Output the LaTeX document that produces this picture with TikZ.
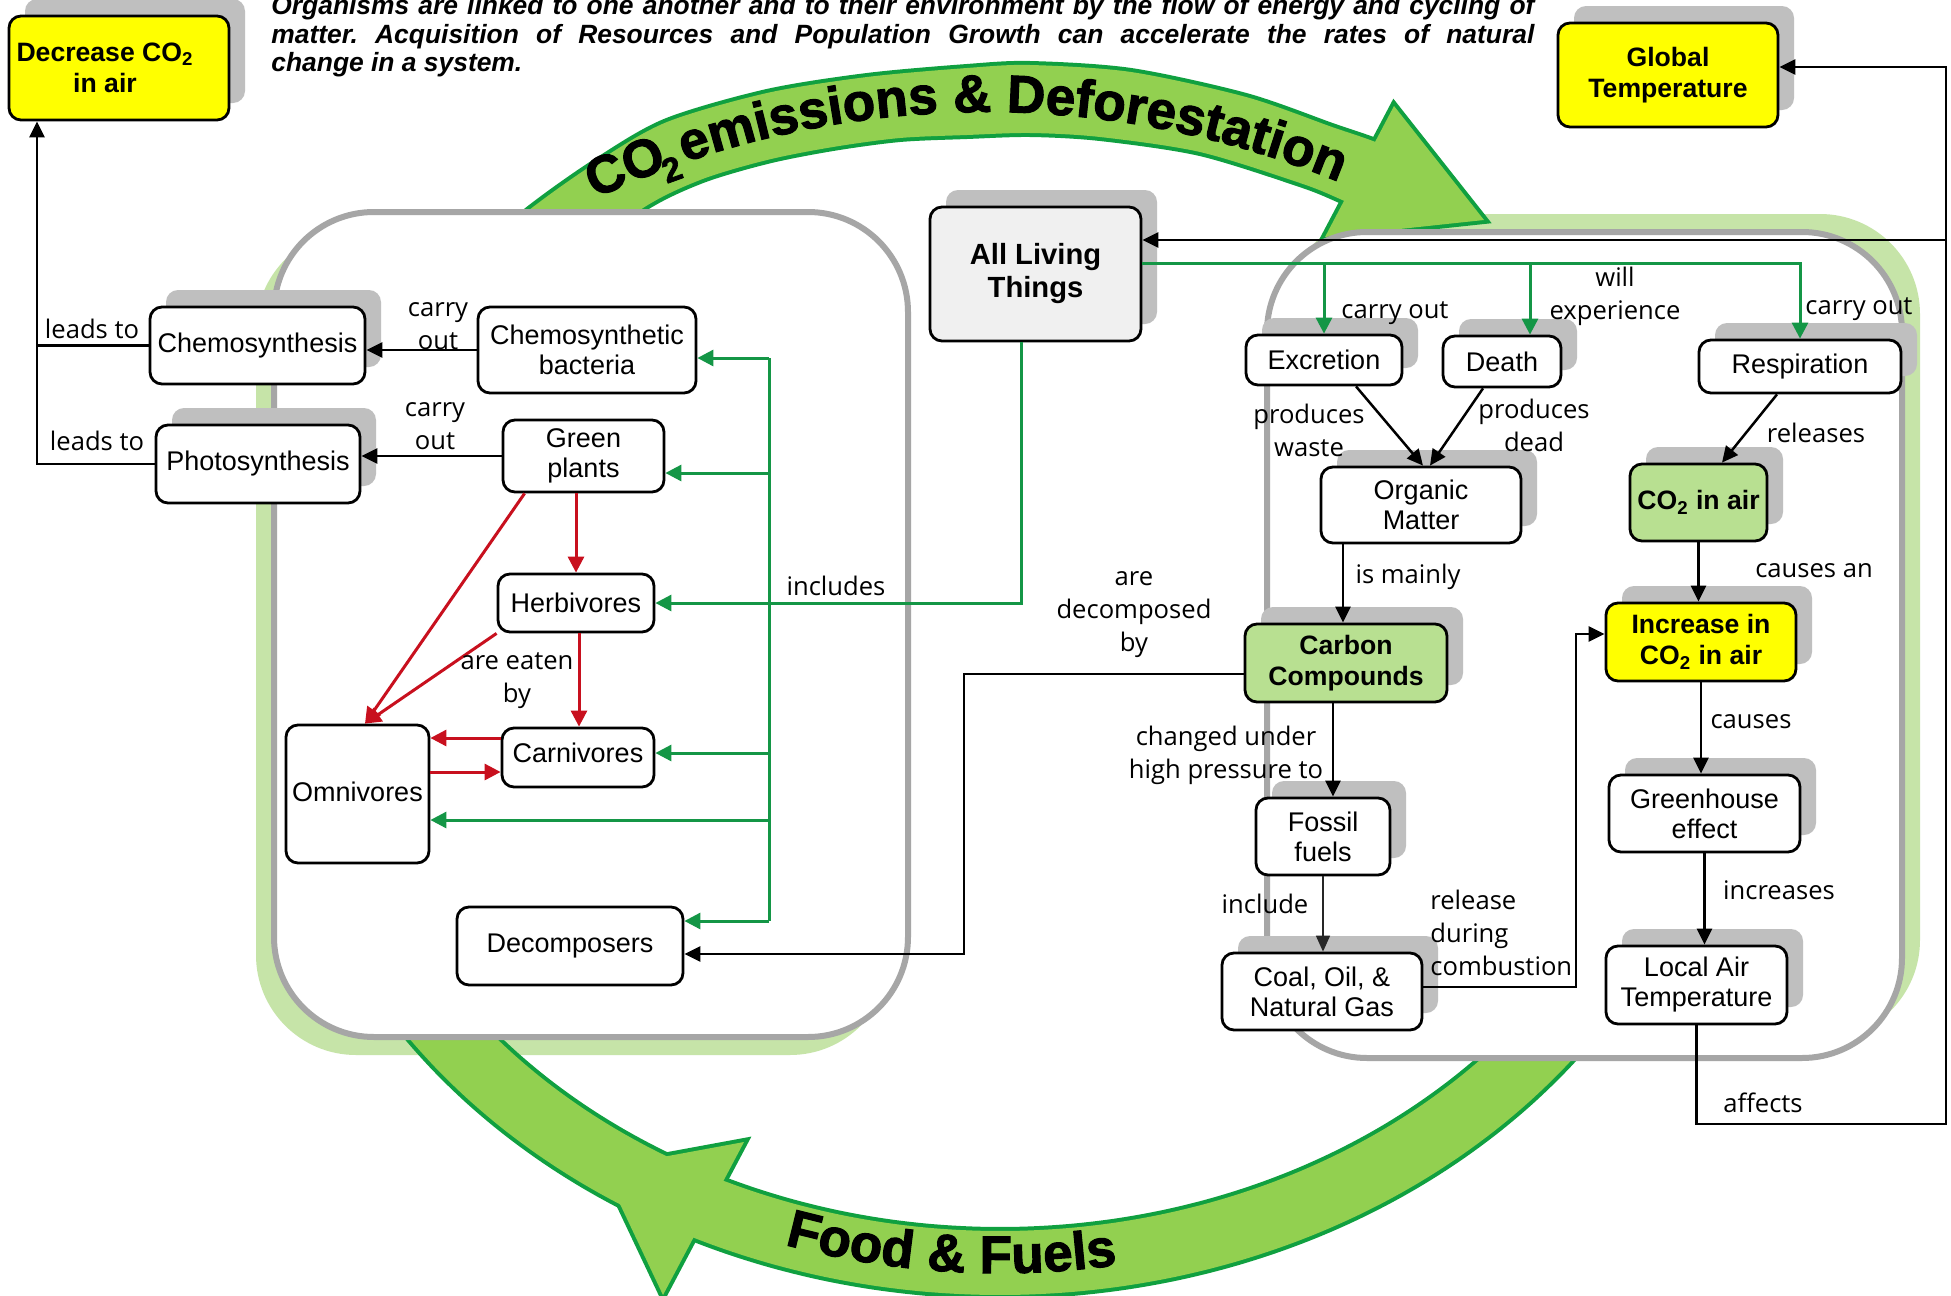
\documentclass[tikz,border=0pt]{standalone}
\usepackage{fontspec}
\setmainfont{Liberation Sans}
\newfontfamily\lblfont{Open Sans}
\newfontfamily\heavyfont{Liberation Sans}[BoldFeatures={FakeBold=2}]
\usetikzlibrary{arrows.meta,decorations.text,shadows}
\frenchspacing

\definecolor{bandfill}{RGB}{146,208,80}
\definecolor{bandline}{RGB}{16,160,64}
\definecolor{halo}{RGB}{198,228,168}
\definecolor{frame}{RGB}{166,166,166}
\definecolor{shade}{RGB}{191,191,191}
\definecolor{boxyellow}{RGB}{255,255,0}
\definecolor{boxgreen}{RGB}{184,224,145}
\definecolor{boxgrey}{RGB}{240,240,240}
\definecolor{linkgreen}{RGB}{20,150,70}
\definecolor{linkred}{RGB}{200,16,30}

\newcommand\nodetext{\fontsize{13.5}{15}\selectfont}
\newcommand\boldtext{\bfseries\fontsize{13.3}{15.5}\selectfont}
\newcommand\bigboldtext{\bfseries\fontsize{14.6}{16.5}\selectfont}
\newcommand\labeltext{\lblfont\fontsize{12.8}{16.5}\selectfont}
\newcommand\titletext{\bfseries\itshape\fontsize{13.2}{14}\selectfont}
\newcommand\arctext{\heavyfont\bfseries\fontsize{26.5}{28}\selectfont}
\newcommand\subarctext{\heavyfont\bfseries\fontsize{17}{17}\selectfont}

% the two curved arrows: bands and triangular heads
\newcommand\upperband{plot[smooth] coordinates {(450,275) (533,207) (600,160) (667,122) (767,93) (867,77) (967,68) (1030,65) (1131,72) (1246,97) (1332,127) (1378,143) (1428,166)} -- plot[smooth] coordinates {(1393,224) (1340,199) (1300,183) (1200,152) (1100,137) (1030,133) (967,135) (900,138) (833,147) (767,160) (700,180) (640,210) (560,275)} -- cycle}
\newcommand\upperhead{(1394,106) -- (1484,220) -- (1325,237) -- cycle}
\newcommand\lowerband{plot[domain=31:149,samples=90,smooth] ({1000+727*cos(\x)},{680+615*sin(\x)}) -- plot[domain=149:31,samples=90,smooth] ({1000+663*cos(\x)},{680+551*sin(\x)}) -- cycle}
\newcommand\lowerhead{(603,1168) -- (744,1142) -- (663,1295) -- cycle}

\begin{document}
\begin{tikzpicture}[x=0.5pt,y=-0.5pt,
  box/.style={draw=black, line width=1.4pt, rounded corners=6pt, fill=white,
    inner sep=2pt, align=center, font=\nodetext},
  keybox/.style={box, font=\boldtext},
  shadowed/.style={drop shadow={shadow xshift=8pt, shadow yshift=8.5pt,
    opacity=1, fill=shade, draw=none}},
  lbl/.style={font=\labeltext, align=center, inner sep=0pt},
  conn/.style={draw=black, line width=1.25pt, -{Triangle[length=8pt,width=7.5pt]}},
  gconn/.style={draw=linkgreen, line width=1.5pt, -{Triangle[length=8pt,width=8pt]}},
  rconn/.style={draw=linkred, line width=1.5pt, -{Triangle[length=8pt,width=8pt]}},
]
\useasboundingbox (0,0) rectangle (1951,1296);
\fill[white] (0,0) rectangle (1951,1296);

% light green halos behind the two panels
\fill[halo, rounded corners=50pt] (256,230) rectangle (890,1055);
\fill[halo, rounded corners=50pt] (1285,214) rectangle (1920,1040);

% curved arrows: outlines first, fills on top so only the outer edge shows
\begin{scope}[draw=bandline, line width=4pt]
  \draw \upperband; \draw \upperhead;
  \draw \lowerband; \draw \lowerhead;
\end{scope}
\fill[bandfill] \upperband; \fill[bandfill] \upperhead;
\fill[bandfill] \lowerband; \fill[bandfill] \lowerhead;

% the two panels
\draw[frame, line width=3pt, fill=white, rounded corners=50pt] (274,212) rectangle (908,1037);
\draw[frame, line width=3pt, fill=white, rounded corners=50pt] (1267,232) rectangle (1902,1058);

% words on the arrows
\path[decorate, decoration={text along path, text align=left, text={|\arctext|CO}}]
  ({986+925*cos(245)},{1037+925*sin(245)}) arc[start angle=115, end angle=90, radius=462.5pt];
\path[decorate, decoration={text along path, text align=left, text={|\subarctext|2}}]
  ({986+911*cos(249.5)},{1037+911*sin(249.5)}) arc[start angle=110.5, end angle=90, radius=455.5pt];
\path[decorate, decoration={text along path, text align=left, text={|\arctext|emissions {\&} Deforestation}}]
  ({986+925*cos(251)},{1037+925*sin(251)}) arc[start angle=109, end angle=40, radius=462.5pt];
\path[decorate, decoration={text along path, text align=center, text={|\arctext|Food {\&} Fuels}}]
  ({1000+705*cos(154.6)},{680+593*sin(154.6)}) arc[start angle=205.4, end angle=325.4, x radius=352.5pt, y radius=296.5pt];

% heading
\node[anchor=base west, inner sep=0pt, font=\titletext] (title1) at (271,14)
  {\makebox[631.5pt][s]{Organisms are linked to one another and to their environment by the flow of energy and cycling of}};
\node[anchor=base west, inner sep=0pt, font=\titletext] (title2) at (271,43)
  {\makebox[631.5pt][s]{matter. Acquisition of Resources and Population Growth can accelerate the rates of natural}};
\node[anchor=base west, inner sep=0pt, font=\titletext] (title3) at (271,71)
  {change in a system.};

% concepts
\node[keybox, shadowed, fill=boxyellow, minimum width=110pt, minimum height=52pt] (dec) at (119,68) {Decrease CO\textsubscript{2}\hspace*{14pt}\\in air\hspace*{14pt}};
\node[keybox, shadowed, fill=boxyellow, minimum width=110pt, minimum height=52pt] (glob) at (1668,75) {Global\\Temperature};
\node[box, shadowed, fill=boxgrey, font=\bigboldtext, minimum width=105.5pt, minimum height=67pt] (alt) at (1035.5,274) {All Living\\Things};

\node[box, shadowed, minimum width=107.5pt, minimum height=38.5pt] (chs) at (257.5,345.5) {Chemosynthesis};
\node[box, shadowed, minimum width=102pt, minimum height=39pt] (pho) at (258,464) {Photosynthesis};
\node[box, minimum width=109pt, minimum height=43pt] (bac) at (587,350) {Chemosynthetic\\bacteria};
\node[box, minimum width=80.5pt, minimum height=36pt] (gp) at (583.5,456) {Green\\plants};
\node[box, minimum width=78pt, minimum height=29pt] (herb) at (576,603) {Herbivores};
\node[box, minimum width=76pt, minimum height=29.5pt] (carn) at (578,757.5) {\raisebox{5pt}{Carnivores}};
\node[box, minimum width=71.5pt, minimum height=69pt] (omni) at (357.5,794) {\raisebox{2.5pt}{Omnivores}};
\node[box, minimum width=113pt, minimum height=39pt] (decomp) at (570,946) {Decomposers};

\node[box, shadowed, minimum width=78pt, minimum height=25pt] (exc) at (1324,360) {Excretion};
\node[box, shadowed, minimum width=59pt, minimum height=25.5pt] (death) at (1502,361.5) {Death};
\node[box, shadowed, minimum width=101pt, minimum height=26.5pt] (resp) at (1800,366.5) {Respiration};
\node[box, shadowed, minimum width=100pt, minimum height=38pt] (org) at (1421,505) {Organic\\Matter};
\node[keybox, shadowed, fill=boxgreen, minimum width=68.5pt, minimum height=38.5pt] (co2) at (1698.5,502.5) {CO\textsubscript{2} in air};
\node[keybox, shadowed, fill=boxgreen, minimum width=101pt, minimum height=39pt] (carb) at (1346,663) {Carbon\\Compounds};
\node[keybox, shadowed, fill=boxyellow, minimum width=95pt, minimum height=39pt] (inc) at (1701,642) {Increase in\\CO\textsubscript{2} in air};
\node[box, shadowed, minimum width=67pt, minimum height=38.5pt] (foss) at (1323,836.5) {Fossil\\fuels};
\node[box, shadowed, minimum width=100pt, minimum height=38.5pt] (coal) at (1322,991.5) {Coal, Oil, \&\\Natural Gas};
\node[box, shadowed, minimum width=95.5pt, minimum height=38.5pt] (gh) at (1704.5,813.5) {Greenhouse\\effect};
\node[box, shadowed, minimum width=90.5pt, minimum height=39pt] (lat) at (1696.5,985) {Local Air\\Temperature};

% producers feed the left column
\coordinate (lj) at (37,0);
\draw[conn] (bac.west) -- (bac.west -| chs.east);
\draw[conn] (gp.west) -- (gp.west -| pho.east);
\draw[line width=1.25pt] (chs.west) -- (chs.west -| lj);
\draw[conn] (pho.west) -- (pho.west -| lj) -- (lj |- dec.south);

% feedback from local temperature
\coordinate (rb) at (1946,1124);
\coordinate (rj) at (1946,240);
\draw[conn] (lat.south) |- (rb) |- ([yshift=4pt]glob.east);
\draw[conn] (rj) -- (rj -| alt.east);

% what all living things do
\coordinate (gr) at (1798,263);
\draw[gconn] ([yshift=5.5pt]alt.east) -| (resp.north);
\draw[gconn] (exc.north |- gr) -- (exc.north);
\coordinate (dn) at ([xshift=14pt]death.north);
\draw[gconn] (dn |- gr) -- (dn);

% what all living things include
\coordinate (an) at ([xshift=-7.25pt]alt.south);
\draw[gconn] (an) |- (herb.east);
\coordinate (bt) at (769,358);
\coordinate (bb) at (769,921);
\draw[linkgreen, line width=1.5pt] (bt) -- (bb);
\draw[gconn] (bt) -- (bt -| bac.east);
\coordinate (gpe) at ([yshift=-8.5pt]gp.east);
\draw[gconn] (gpe -| bt) -- (gpe);
\coordinate (cae) at ([yshift=2.25pt]carn.east);
\draw[gconn] (cae -| bt) -- (cae);
\coordinate (ome) at ([yshift=-13pt]omni.east);
\draw[gconn] (ome -| bt) -- (ome);
\draw[gconn] (bb) -- (bb -| decomp.east);

% food chain
\coordinate (gs) at ([xshift=-3.75pt]gp.south);
\draw[rconn] (gs) -- (gs |- herb.north);
\coordinate (hs) at ([xshift=1.5pt]herb.south);
\draw[rconn] (hs) -- (hs |- carn.north);
\coordinate (ot) at ([xshift=3.75pt]omni.north);
\draw[rconn] ([xshift=11.5pt]gp.south west) -- (ot);
\draw[rconn] (herb.south west) -- (ot);
\coordinate (cw1) at ([yshift=9.75pt]carn.west);
\draw[rconn] (cw1) -- (cw1 -| omni.east);
\coordinate (cw2) at ([yshift=-7.25pt]carn.west);
\draw[rconn] (cw2 -| omni.east) -- (cw2);

% carbon path
\coordinate (es) at ([xshift=16pt]exc.south);
\coordinate (ds) at ([xshift=-9.5pt]death.south);
\draw[conn] (es) -- ([xshift=1pt]org.north);
\draw[conn] (ds) -- ([xshift=4.5pt]org.north);
\coordinate (os) at ([xshift=-39pt]org.south);
\draw[conn] (os) -- (os |- carb.north);
\coordinate (cw) at ([yshift=-5.5pt]carb.west);
\coordinate (kd) at (964,954);
\draw[conn] (cw) -| (kd) -- (kd -| decomp.east);
\coordinate (cs) at ([xshift=-6.5pt]carb.south);
\draw[conn] (cs) -- (cs |- foss.north);
\draw[draw=black!85, line width=0.8pt, -{Triangle[length=8pt,width=7pt]}] (foss.south) -- (foss.south |- coal.north);
\coordinate (ce) at ([yshift=2.25pt]coal.east);
\coordinate (ke) at (1576,634);
\draw[conn] (ce) -| (ke) -- (ke -| inc.west);
\coordinate (rs) at ([xshift=-11.5pt]resp.south);
\draw[conn] (rs) -- ([xshift=11.75pt]co2.north);
\draw[conn] (co2.south) -- (co2.south |- inc.north);
\draw[conn] (inc.south) -- (inc.south |- gh.north);
\draw[conn] (gh.south) -- (gh.south |- lat.north);

% link words
\node[lbl] (l1) at (92,329) {leads to};
\node[lbl] (l2) at (97,441) {leads to};
\node[lbl] (l3) at (438,326) {carry\\out};
\node[lbl] (l4) at (435,426) {carry\\out};
\node[lbl] (l5) at (836,586) {includes};
\node[lbl] (l6) at (517,681) {are eaten\\by};
\node[lbl] (l7) at (1395,313) {carry out};
\node[lbl] (l8) at (1615,296) {will\\experience};
\node[lbl] (l9) at (1859,309) {carry out};
\node[lbl] (l10) at (1309,430) {produces\\waste};
\node[lbl] (l11) at (1534,425) {produces\\dead};
\node[lbl] (l12) at (1816,433) {releases};
\node[lbl] (l13) at (1408,577) {is mainly};
\node[lbl] (l14) at (1814,571) {causes an};
\node[lbl] (l15) at (1134,615) {are\\decomposed\\by};
\node[lbl] (l16) at (1226,755) {changed under\\high pressure to};
\node[lbl] (l17) at (1751,722) {causes};
\node[lbl] (l18) at (1265,904) {include};
\node[lbl, align=left, anchor=west] (l19) at (1430,933) {release\\during\\combustion};
\node[lbl] (l20) at (1779,890) {increases};
\node[lbl] (l21) at (1763,1103) {affects};
\end{tikzpicture}
\end{document}
